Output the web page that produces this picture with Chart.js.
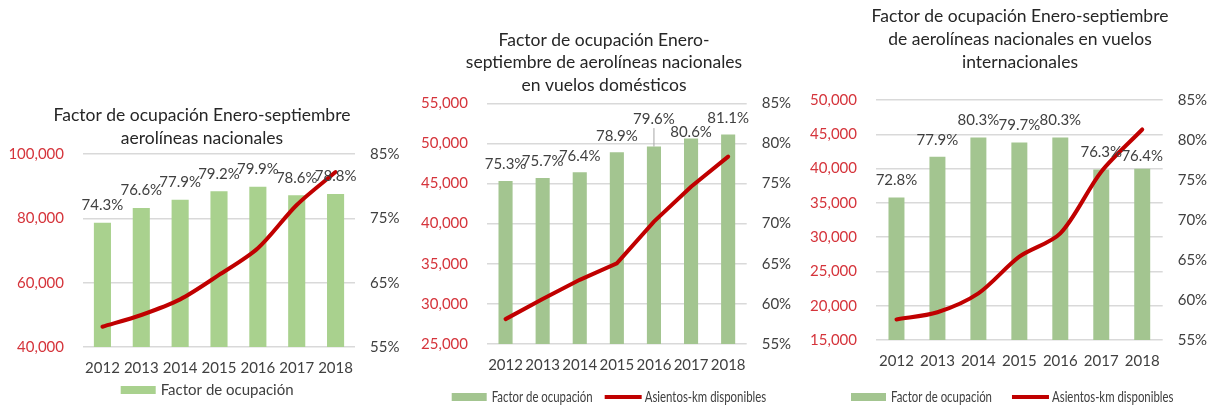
<!DOCTYPE html>
<html lang="es">
<head>
<meta charset="utf-8">
<title>Factor de ocupación Enero-septiembre</title>
<script src="https://cdn.jsdelivr.net/npm/chart.js@4.4.1/dist/chart.umd.min.js"></script>
<style>
  html, body { margin: 0; padding: 0; background: #fff; overflow: hidden; }
  body { width: 1211px; height: 407px; position: relative; }
  .chart-box { position: absolute; top: 0; height: 407px; }
  .chart-box canvas { display: block; }
</style>
</head>
<body>
<div class="chart-box" style="left:0;width:404px"><canvas id="totalChart"></canvas></div>
<div class="chart-box" style="left:400px;width:408px"><canvas id="domChart"></canvas></div>
<div class="chart-box" style="left:800px;width:440px"><canvas id="intlChart"></canvas></div>
<script>
// shared categories
const years = ['2012', '2013', '2014', '2015', '2016', '2017', '2018'];

// chart 1: aerolíneas nacionales (total)
const factorTotal = [74.3, 76.6, 77.9, 79.2, 79.9, 78.6, 78.8];
const asientosTotal = [46300, 49950, 54800, 62400, 70700, 84150, 94400];
const leftTicksTotal = [40000, 60000, 80000, 100000];
const rightTicksTotal = [55, 65, 75, 85];

// chart 2: vuelos domésticos
const factorDom = [75.3, 75.7, 76.4, 78.9, 79.6, 80.6, 81.1];
const asientosDom = [28100, 30600, 33000, 35050, 40250, 44600, 48350];
const leftTicksDom = [25000, 30000, 35000, 40000, 45000, 50000, 55000];
const rightTicksDom = [55, 60, 65, 70, 75, 80, 85];

// chart 3: vuelos internacionales
const factorIntl = [72.8, 77.9, 80.3, 79.7, 80.3, 76.3, 76.4];
const asientosIntl = [18000, 19050, 21800, 27150, 30550, 39550, 45700];
const leftTicksIntl = [15000, 20000, 25000, 30000, 35000, 40000, 45000, 50000];
const rightTicksIntl = [55, 60, 65, 70, 75, 80, 85];

const FONT = 'Lato, "Noto Sans", sans-serif';
const TEXT = '#404040';
const RED_TEXT = '#D5343B';
const LINE_RED = '#C00000';

// percentage labels over the bars
const barLabels = {
  id: 'barLabels',
  afterDatasetsDraw(chart, args, opts) {
    const ctx = chart.ctx;
    const ds = chart.data.datasets[0];
    const meta = chart.getDatasetMeta(0);
    ctx.save();
    ctx.font = '15px ' + FONT;
    ctx.fillStyle = TEXT;
    ctx.textAlign = 'center';
    ctx.textBaseline = 'middle';
    meta.data.forEach((bar, i) => {
      const nudge = (opts.nudge && opts.nudge[i]) || 0;
      const y = bar.y - opts.offset + nudge;
      if (opts.leader && opts.leader[i]) {
        ctx.strokeStyle = '#a6a6a6';
        ctx.lineWidth = 1;
        ctx.beginPath();
        ctx.moveTo(bar.x, y + 9);
        ctx.lineTo(bar.x, bar.y);
        ctx.stroke();
      }
      ctx.fillText(ds.data[i].toFixed(1) + '%', bar.x, y);
    });
    ctx.restore();
  }
};

// excel style legend under the axis
const sheetLegend = {
  id: 'sheetLegend',
  afterDraw(chart, args, opts) {
    const ctx = chart.ctx;
    let x = opts.x;
    const y = opts.y;
    ctx.save();
    ctx.font = opts.fontSize + 'px ' + FONT;
    ctx.textBaseline = 'middle';
    opts.show.forEach(idx => {
      const ds = chart.data.datasets[idx];
      if (ds.type === 'line') {
        ctx.strokeStyle = ds.borderColor;
        ctx.lineWidth = 4;
        ctx.beginPath();
        ctx.moveTo(x, y);
        ctx.lineTo(x + 37, y);
        ctx.stroke();
        x += 40;
      } else {
        ctx.fillStyle = ds.backgroundColor;
        ctx.fillRect(x, y - 4, 35, 8);
        x += 40;
      }
      const w = ctx.measureText(ds.label).width;
      ctx.fillStyle = TEXT;
      ctx.save();
      ctx.translate(x, y);
      ctx.scale(opts.squeeze, 1);
      ctx.fillText(ds.label, 0, 0);
      ctx.restore();
      x += w * opts.squeeze + opts.gap;
    });
    ctx.restore();
  }
};

const makeChart = (id, cfg) => {
  const ctx = document.getElementById(id).getContext('2d');
  return new Chart(ctx, {
    type: 'bar',
    data: {
      labels: years,
      datasets: [
        {
          type: 'bar',
          label: 'Factor de ocupación',
          data: cfg.factor,
          yAxisID: 'y1',
          backgroundColor: cfg.barColor,
          barPercentage: cfg.barWidth,
          categoryPercentage: 1,
          order: 2
        },
        {
          type: 'line',
          label: 'Asientos-km disponibles',
          data: cfg.asientos,
          yAxisID: 'y',
          borderColor: LINE_RED,
          borderWidth: 4,
          pointRadius: 0,
          tension: cfg.tension,
          borderCapStyle: 'round',
          order: 1
        }
      ]
    },
    options: {
      responsive: true,
      maintainAspectRatio: false,
      animation: false,
      layout: { padding: 0 },
      plugins: {
        legend: { display: false },
        tooltip: { enabled: false },
        title: {
          display: true,
          text: cfg.title,
          color: '#262626',
          font: { family: FONT, size: 17.5, weight: 'normal', lineHeight: cfg.titleLine / 17.5 },
          padding: cfg.titlePad
        },
        barLabels: cfg.labels,
        sheetLegend: cfg.legend
      },
      scales: {
        x: {
          offset: true,
          grid: { display: false, drawTicks: false },
          border: { display: false },
          ticks: { color: TEXT, font: { family: FONT, size: 15 }, padding: 12, autoSkip: false, maxRotation: 0 },
          afterFit: s => { s.height = cfg.bottom; }
        },
        y: {
          position: 'left',
          min: cfg.leftTicks[0],
          max: cfg.leftTicks[cfg.leftTicks.length - 1],
          grid: { color: '#d9d9d9', lineWidth: 1.5, drawTicks: false },
          border: { display: false },
          ticks: {
            stepSize: cfg.leftTicks[1] - cfg.leftTicks[0],
            color: RED_TEXT,
            font: { family: FONT, size: 15 },
            padding: 19,
            callback: v => v.toLocaleString('en-US')
          },
          afterFit: s => { s.width = cfg.leftWidth; }
        },
        y1: {
          position: 'right',
          min: cfg.rightTicks[0],
          max: cfg.rightTicks[cfg.rightTicks.length - 1],
          grid: { display: false, drawTicks: false },
          border: { display: false },
          ticks: {
            stepSize: cfg.rightTicks[1] - cfg.rightTicks[0],
            color: TEXT,
            font: { family: FONT, size: 15 },
            padding: 15,
            callback: v => v + '%'
          },
          afterFit: s => { s.width = cfg.rightWidth; }
        }
      }
    },
    plugins: [barLabels, sheetLegend]
  });
};

makeChart('totalChart', {
  factor: factorTotal,
  asientos: asientosTotal,
  leftTicks: leftTicksTotal,
  rightTicks: rightTicksTotal,
  barColor: '#A9D18E',
  barWidth: 0.44,
  tension: 0.3,
  title: ['Factor de ocupación Enero-septiembre', 'aerolíneas nacionales'],
  titleLine: 23,
  titlePad: { top: 103.5, bottom: 4.5 },
  leftWidth: 83,
  rightWidth: 49,
  bottom: 60,
  labels: { offset: 17.5 },
  legend: { show: [0], x: 120.7, y: 390, fontSize: 15, squeeze: 1, gap: 20 }
});

makeChart('domChart', {
  factor: factorDom,
  asientos: asientosDom,
  leftTicks: leftTicksDom,
  rightTicks: rightTicksDom,
  barColor: '#A3C590',
  barWidth: 0.38,
  tension: 0,
  title: ['Factor de ocupación Enero-', 'septiembre de aerolíneas nacionales', 'en vuelos domésticos'],
  titleLine: 22.5,
  titlePad: { top: 28.75, bottom: 7 },
  leftWidth: 87,
  rightWidth: 61.3,
  bottom: 63,
  labels: { offset: 16.5, nudge: [0, 0, 0, 0, -11, 10, 0], leader: [0, 0, 0, 0, 1, 0, 0] },
  legend: { show: [0, 1], x: 51.7, y: 397, fontSize: 15, squeeze: 0.76, gap: 12 }
});

makeChart('intlChart', {
  factor: factorIntl,
  asientos: asientosIntl,
  leftTicks: leftTicksIntl,
  rightTicks: rightTicksIntl,
  barColor: '#A3C590',
  barWidth: 0.39,
  tension: 0.3,
  title: ['Factor de ocupación Enero-septiembre', 'de aerolíneas nacionales en vuelos', 'internacionales'],
  titleLine: 23,
  titlePad: { top: 5.2, bottom: 25.8 },
  leftWidth: 76,
  rightWidth: 77.3,
  bottom: 67,
  labels: { offset: 17, nudge: [0, 0, 0, 0, 0, 0, 4] },
  legend: { show: [0, 1], x: 51, y: 397, fontSize: 15, squeeze: 0.76, gap: 20 }
});
</script>
</body>
</html>
